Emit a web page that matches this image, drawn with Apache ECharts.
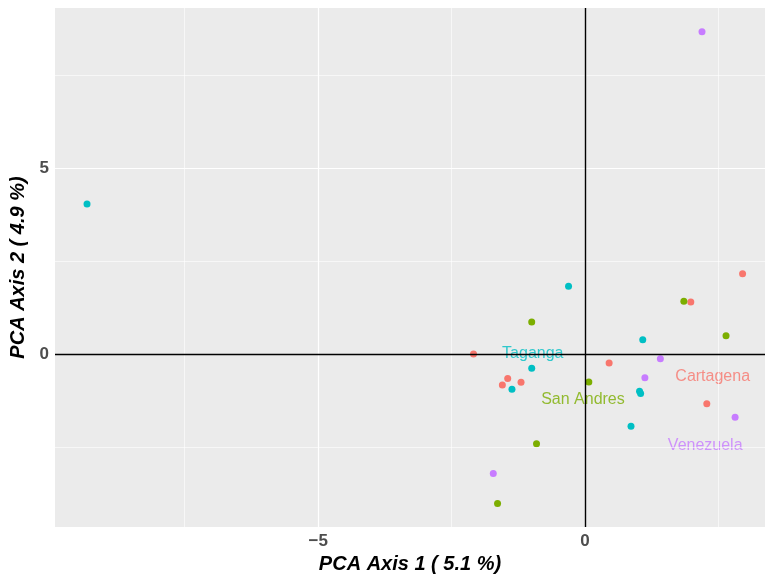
<!DOCTYPE html>
<html><head><meta charset="utf-8">
<script src="https://cdn.jsdelivr.net/npm/echarts@6/dist/echarts.min.js"></script>
<style>html,body{margin:0;padding:0;background:#fff}#c{width:765px;height:580px}</style>
</head><body><div id="c"></div>
<script>
// Data (PCA scores per location)
const groups = ['Cartagena', 'San Andres', 'Taganga', 'Venezuela'];
const colors = ['#F8766D', '#7CAE00', '#00BFC4', '#C77CFF'];
const cartagena = [[2.95,2.16],[1.98,1.40],[-2.09,0.00],[0.45,-0.24],[-1.45,-0.66],[-1.55,-0.83],[-1.20,-0.76],[2.28,-1.34]];
const sanAndres = [[1.85,1.42],[-1.00,0.86],[2.64,0.49],[0.07,-0.75],[-0.91,-2.41],[-1.64,-4.02]];
const taganga = [[-9.33,4.03],[-0.31,1.82],[1.08,0.38],[-1.00,-0.38],[-1.37,-0.95],[1.02,-1.00],[1.04,-1.06],[0.86,-1.94]];
const venezuela = [[2.19,8.66],[1.41,-0.13],[1.12,-0.64],[2.81,-1.70],[-1.72,-3.21]];
const labelPos = [[2.39,-0.60],[-0.04,-1.22],[-0.98,0.02],[2.25,-2.46]];
const xTicks = [-5, 0];
const yTicks = [0, 5];
const xMajor = [-5];
const xMinor = [-7.5, -2.5, 2.5];
const yMajor = [5];
const yMinor = [7.5, 2.5, -2.5];

const xMin = -9.93, xMax = 3.37, yMin = -4.65, yMax = 9.30;
const fmt = v => v < 0 ? '\u2212' + Math.abs(v) : String(v);
const groupData = [cartagena, sanAndres, taganga, venezuela];
const FF = 'Liberation Sans, Arial, sans-serif';

const gridSeries = {
  type: 'line', data: [], silent: true, z: 1,
  markLine: {
    symbol: 'none', silent: true, label: {show: false}, animation: false,
    data: [
      ...xMinor.map(v => ({xAxis: v, lineStyle: {color: '#fff', width: 0.6, type: 'solid'}})),
      ...yMinor.map(v => ({yAxis: v, lineStyle: {color: '#fff', width: 0.6, type: 'solid'}})),
      ...xMajor.map(v => ({xAxis: v, lineStyle: {color: '#fff', width: 1.2, type: 'solid'}})),
      ...yMajor.map(v => ({yAxis: v, lineStyle: {color: '#fff', width: 1.2, type: 'solid'}})),
      {xAxis: 0, lineStyle: {color: '#000', width: 1.4, type: 'solid'}},
      {yAxis: 0, lineStyle: {color: '#000', width: 1.4, type: 'solid'}}
    ]
  }
};

const series = [gridSeries];
groupData.forEach((d, i) => {
  series.push({
    name: groups[i], type: 'scatter', data: d, symbolSize: 7, z: 3,
    itemStyle: {color: colors[i], opacity: 1}
  });
});
series.push({
  type: 'scatter', symbolSize: 1, z: 4, silent: true,
  itemStyle: {color: 'rgba(0,0,0,0)'},
  data: labelPos.map((p, i) => ({value: p, name: groups[i],
    label: {show: true, position: [0.5, 0.5], align: 'center', verticalAlign: 'middle',
      formatter: groups[i], color: colors[i],
      fontSize: 16, fontFamily: FF, textBorderWidth: 0, textShadowBlur: 0}}))
});

const chart = echarts.init(document.getElementById('c'), null, {renderer: 'canvas'});
chart.setOption({
  animation: false,
  backgroundColor: '#fff',
  grid: {left: 55, right: 0, top: 8, bottom: 53, show: true, backgroundColor: '#EBEBEB', borderWidth: 0},
  xAxis: {
    type: 'value', min: xMin, max: xMax,
    axisLine: {show: false},
    splitLine: {show: false},
    axisTick: {show: true, length: 3, lineStyle: {color: '#333', width: 1}, customValues: xTicks},
    axisLabel: {customValues: xTicks, formatter: fmt, color: '#4D4D4D', fontWeight: 700, fontSize: 17,
      fontFamily: FF, margin: 6},
    name: 'PCA Axis 1 ( 5.1 %)', nameLocation: 'middle', nameGap: 27,
    nameTextStyle: {color: '#000', fontWeight: 700, fontStyle: 'italic', fontSize: 20, fontFamily: FF}
  },
  yAxis: {
    type: 'value', min: yMin, max: yMax,
    axisLine: {show: false},
    splitLine: {show: false},
    axisTick: {show: true, length: 3, lineStyle: {color: '#333', width: 1}, customValues: yTicks},
    axisLabel: {customValues: yTicks, formatter: fmt, color: '#4D4D4D', fontWeight: 700, fontSize: 17,
      fontFamily: FF, margin: 6},
    name: 'PCA Axis 2 ( 4.9 %)', nameLocation: 'middle', nameGap: 22,
    nameTextStyle: {color: '#000', fontWeight: 700, fontStyle: 'italic', fontSize: 20, fontFamily: FF}
  },
  series: series
});
</script>
</body></html>
